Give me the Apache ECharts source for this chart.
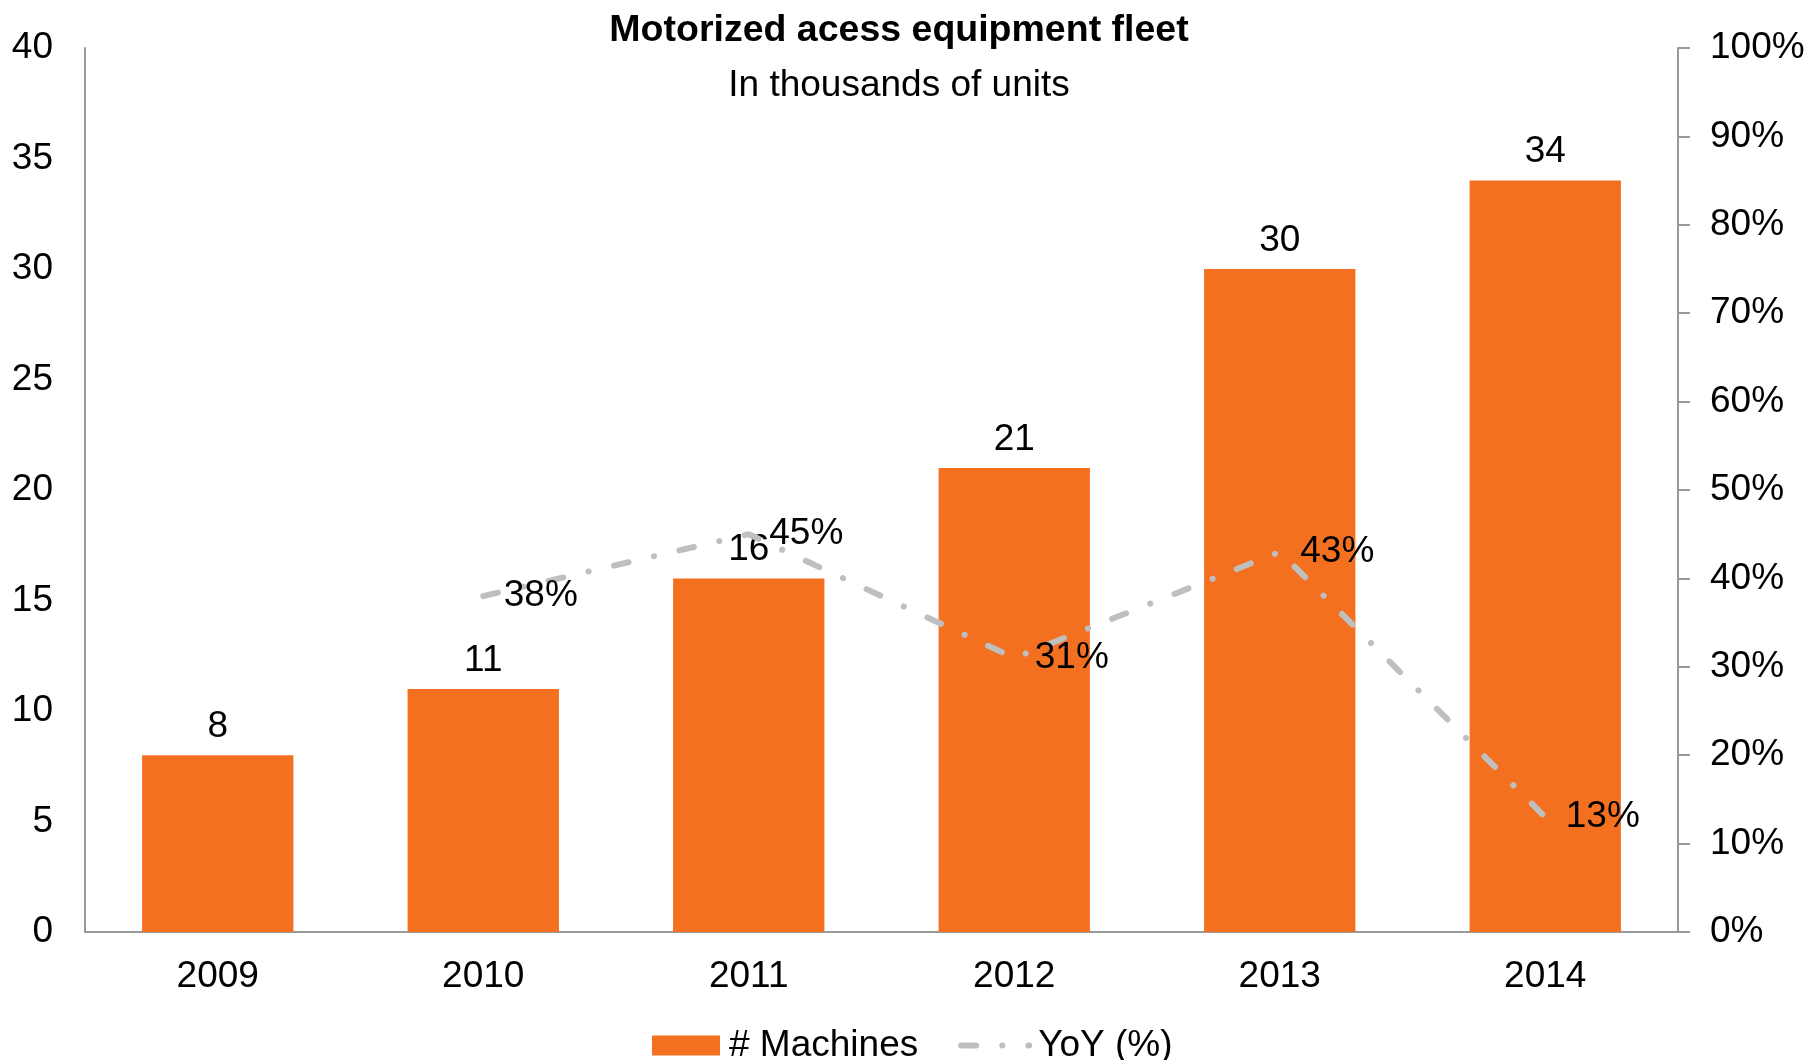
<!DOCTYPE html>
<html>
<head>
<meta charset="utf-8">
<script src="https://cdn.jsdelivr.net/npm/echarts@6/dist/echarts.min.js"></script>
<style>
html,body{margin:0;padding:0;background:#fff;}
#main{width:1808px;height:1060px;}
</style>
</head>
<body>
<div id="main"></div>
<script>
const categories = ['2009', '2010', '2011', '2012', '2013', '2014'];
const machines = [8, 11, 16, 21, 30, 34];
const yoy = [null, 38, 45, 31, 43, 13];
const leftTicks = {min: 0, max: 40, interval: 5};
const rightTicks = {min: 0, max: 100, interval: 10};

const FONT = '"Liberation Sans", Arial, sans-serif';
const FS = 37;
const DASH = [15, 26, 0.1, 26];
const chart = echarts.init(document.getElementById('main'));
chart.setOption({
  animation: false,
  backgroundColor: '#ffffff',
  textStyle: {fontFamily: FONT, color: '#000'},
  title: [
    {text: 'Motorized acess equipment fleet', left: 894, top: 7, textAlign: 'center',
     textStyle: {fontFamily: FONT, fontSize: 37.5, fontWeight: 'bold', color: '#000'}},
    {text: 'In thousands of units', left: 894, top: 62, textAlign: 'center',
     textStyle: {fontFamily: FONT, fontSize: FS, fontWeight: 'normal', color: '#000'}}
  ],
  legend: {
    left: 647, top: 1022,
    itemWidth: 68, itemHeight: 20, itemGap: 40,
    textStyle: {fontFamily: FONT, fontSize: FS, color: '#000', padding: [0, 0, 0, 4]},
    data: [
      {name: '# Machines', icon: 'rect'},
      {name: 'YoY (%)', lineStyle: {width: 6, type: DASH, cap: 'round', color: '#BFBFBF'}}
    ]
  },
  grid: {left: 85, right: 130, top: 48, bottom: 128, containLabel: false},
  xAxis: {
    type: 'category', data: categories,
    axisLine: {lineStyle: {color: '#999', width: 2}},
    axisTick: {show: false},
    axisLabel: {fontFamily: FONT, fontSize: FS, color: '#000', margin: 26}
  },
  yAxis: [
    {type: 'value', min: leftTicks.min, max: leftTicks.max, interval: leftTicks.interval,
     splitLine: {show: false},
     axisLine: {show: true, lineStyle: {color: '#999', width: 2}},
     axisTick: {show: false},
     axisLabel: {fontFamily: FONT, fontSize: FS, color: '#000', margin: 32}},
    {type: 'value', min: rightTicks.min, max: rightTicks.max, interval: rightTicks.interval,
     position: 'right',
     splitLine: {show: false},
     axisLine: {show: true, lineStyle: {color: '#999', width: 2}},
     axisTick: {show: true, length: 12, lineStyle: {color: '#999', width: 2}},
     axisLabel: {fontFamily: FONT, fontSize: FS, color: '#000', margin: 32, formatter: '{value}%'}}
  ],
  series: [
    {name: '# Machines', type: 'bar', data: machines, yAxisIndex: 0,
     barCategoryGap: '43%',
     itemStyle: {color: '#F37021'},
     label: {show: true, position: 'top', distance: 10, fontFamily: FONT, fontSize: FS, color: '#000'}},
    {name: 'YoY (%)', type: 'line', data: yoy, yAxisIndex: 1,
     symbol: 'circle', symbolSize: 1, connectNulls: false,
     itemStyle: {color: 'rgba(191,191,191,0)'},
     lineStyle: {color: '#BFBFBF', width: 6, type: DASH, cap: 'round'},
     label: {show: true, position: 'right', distance: 20, fontFamily: FONT, fontSize: FS, color: '#000',
             formatter: p => p.value + '%'},
     z: 3}
  ]
});
</script>
</body>
</html>
